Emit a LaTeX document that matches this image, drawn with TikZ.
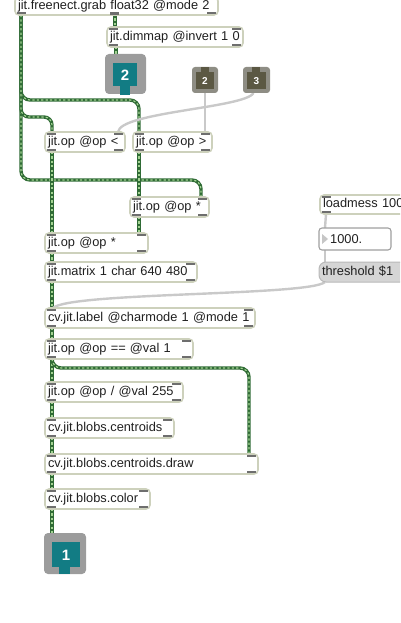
\documentclass[tikz,border=0pt]{standalone}
\usepackage{fontspec}
\setmainfont{Liberation Sans}
\usetikzlibrary{backgrounds}
\definecolor{boxline}{HTML}{CDD1BC}
\definecolor{tabc}{HTML}{6E6E6E}
\definecolor{matg}{HTML}{2F6B35}
\definecolor{matl}{HTML}{A3D392}
\definecolor{cordg}{HTML}{C9C9C9}
\definecolor{tealc}{HTML}{127C84}
\definecolor{outbgc}{HTML}{9C9C9C}
\definecolor{inbgc}{HTML}{8E8D84}
\definecolor{brownc}{HTML}{5B5843}
\definecolor{txt}{HTML}{202020}
\tikzset{
  objbox/.style={draw=boxline, line width=1.6pt, fill=white, rounded corners=4pt,
    anchor=north west, align=left, inner xsep=3pt, inner ysep=0pt, minimum height=20pt, outer sep=0pt,
    font=\fontsize{12.8}{14}\selectfont, text=txt, text height=9.5pt, text depth=3pt},
  tab/.style={fill=tabc},
  mcord/.style={line width=3.4pt, draw=matg, line cap=butt,
    postaction={draw=matl, line width=1.1pt, dash pattern=on 2.2pt off 2.2pt}},
  gcord/.style={line width=2.4pt, draw=cordg},
  outbg/.style={fill=outbgc, rounded corners=4pt, anchor=north west, inner sep=0pt, outer sep=0pt},
  inbg/.style={fill=inbgc, rounded corners=3pt, anchor=north west, inner sep=0pt, outer sep=0pt},
  numtxt/.style={text=white, font=\bfseries\fontsize{15}{16}\selectfont, inner sep=0pt},
  smalltxt/.style={text=white, font=\bfseries\fontsize{10}{11}\selectfont, inner sep=0pt},
}
\newcommand\tabsall[1]{%
  \fill[tab] ([xshift=2pt,yshift=-0.8pt]#1.north west) rectangle +(9,2.6);
  \fill[tab] ([xshift=-11pt,yshift=-0.8pt]#1.north east) rectangle +(9,2.6);
  \fill[tab] ([xshift=2pt,yshift=0.8pt]#1.south west) rectangle +(9,-2.6);
  \fill[tab] ([xshift=-11pt,yshift=0.8pt]#1.south east) rectangle +(9,-2.6);}
\begin{document}
\begin{tikzpicture}[x=1pt,y=-1pt]
\useasboundingbox (0,0) rectangle (400,623);
\clip (0,0) rectangle (400,623);
% objects
\node[objbox, text width=197pt, minimum height=18pt] (grab) at (15,-3) {jit.freenect.grab float32 @mode 2};
\fill[tab] ([xshift=2pt,yshift=0.8pt]grab.south west) rectangle +(9,-2.6);
\fill[tab] (110,12.4) rectangle +(9,2.6);
\fill[tab] ([xshift=-11pt,yshift=0.8pt]grab.south east) rectangle +(9,-2.6);
\node[objbox, text width=130pt] (dimmap) at (107,27) {jit.dimmap @invert 1 0};
\tabsall{dimmap}
\node[objbox, text width=74pt] (oplt) at (45,132) {jit.op @op <};
\tabsall{oplt}
\node[objbox, text width=73pt] (opgt) at (133,132) {jit.op @op >};
\tabsall{opgt}
\node[objbox, text width=73pt] (optwo) at (130,197) {jit.op @op *};
\tabsall{optwo}
\node[objbox, text width=97pt] (opone) at (45,233) {jit.op @op *};
\tabsall{opone}
\node[objbox, text width=146pt] (matrix) at (45,262) {jit.matrix 1 char 640 480};
\tabsall{matrix}
\node[objbox, text width=104pt, minimum height=19pt] (loadmess) at (320,195) {loadmess 1000};
\tabsall{loadmess}
\node[draw=gray!75, line width=1.1pt, fill=white, rounded corners=3pt, anchor=north west,
  minimum width=72pt, minimum height=22pt, inner sep=0pt, outer sep=0pt] (numbox) at (319,228) {};
\fill[gray!45] (322,234) -- (328,239) -- (322,244) -- cycle;
\node[anchor=west, inner sep=0pt, font=\fontsize{12.8}{14}\selectfont, text=txt] (numtext) at (330,239) {1000.};
\node[draw=gray!55, line width=1pt, fill=gray!33, rounded corners=7pt, anchor=north west,
  minimum height=20pt, inner xsep=3pt, inner ysep=0pt, outer sep=0pt, font=\fontsize{12.8}{14}\selectfont, text=txt,
  text height=9.5pt, text depth=3pt, align=left, text width=84pt] (thresh) at (319,262) {threshold \$1};
\node[objbox, text width=204pt] (label) at (45,308) {cv.jit.label @charmode 1 @mode 1};
\tabsall{label}
\node[objbox, text width=142pt] (opeq) at (45,339) {jit.op @op == @val 1};
\tabsall{opeq}
\node[objbox, text width=132pt] (opdiv) at (45,382) {jit.op @op / @val 255};
\tabsall{opdiv}
\node[objbox, text width=123pt] (centr) at (45,418) {cv.jit.blobs.centroids};
\tabsall{centr}
\node[objbox, text width=207pt] (cdraw) at (45,454) {cv.jit.blobs.centroids.draw};
\tabsall{cdraw}
\node[objbox, text width=99pt] (bcolor) at (45,489) {cv.jit.blobs.color};
\tabsall{bcolor}
% outlets
\node[outbg, minimum width=41pt, minimum height=40pt] (outtwo) at (105,54) {};
\fill[tealc] (113,63) rectangle (137,86);
\fill[tealc] (120,85) rectangle (130,95);
\node[numtxt] (outtwon) at (125,75) {2};
\node[outbg, minimum width=42pt, minimum height=41pt] (outone) at (44,533) {};
\fill[tealc] (52,542) rectangle (80,567);
\fill[tealc] (59,566) rectangle (70,574);
\node[numtxt] (outonen) at (66,555) {1};
% inlets
\node[inbg, minimum width=26pt, minimum height=26pt] (intwo) at (192,67) {};
\fill[brownc] (196,72) rectangle (214,89);
\fill[brownc] (201,67) rectangle (209,73);
\node[smalltxt] (intwon) at (205,81) {2};
\node[inbg, minimum width=27pt, minimum height=26pt] (inthree) at (243,67) {};
\fill[brownc] (247,72) rectangle (266,89);
\fill[brownc] (252,67) rectangle (260,73);
\node[smalltxt] (inthreen) at (256.5,81) {3};
% cords
\begin{scope}[on background layer]
\coordinate (gout) at ([xshift=6pt]grab.south west);
\draw[mcord, rounded corners=9pt] (gout) -- ([xshift=6pt]grab.south west |- 0,180) -- ([xshift=-8pt]optwo.north east |- 0,180) -- ([xshift=-8pt]optwo.north east);
\draw[mcord, rounded corners=9pt] (gout) -- ([xshift=6pt]grab.south west |- 0,100) -- ([xshift=6pt]opgt.north west |- 0,100) -- ([xshift=6pt]opgt.north west);
\draw[mcord, rounded corners=8pt] (gout) -- ([xshift=6pt]grab.south west |- 0,117) -- ([xshift=7pt]oplt.north west |- 0,117) -- ([xshift=7pt]oplt.north west);
\draw[mcord] (115,14) -- ([xshift=8pt]dimmap.north west);
\draw[mcord] ([xshift=9pt]dimmap.south west) -- (outtwo.north -| 116,0);
\draw[mcord] ([xshift=7pt]oplt.south west) -- ([xshift=7pt]opone.north west);
\draw[mcord] ([xshift=6pt]opgt.south west) -- ([xshift=9pt]optwo.north west);
\draw[mcord] ([xshift=9pt]optwo.south west) -- ([xshift=-9pt]opone.north east);
\draw[mcord] ([xshift=7pt]opone.south west) -- ([xshift=7pt]matrix.north west);
\draw[mcord] ([xshift=7pt]matrix.south west) -- ([xshift=7pt]label.north west);
\draw[mcord] ([xshift=7pt]label.south west) -- ([xshift=7pt]opeq.north west);
\draw[mcord] ([xshift=7pt]opeq.south west) -- ([xshift=7pt]opdiv.north west);
\draw[mcord, rounded corners=9pt] ([xshift=7pt]opeq.south west) -- ([xshift=7pt]opeq.south west |- 0,368) -- ([xshift=-9pt]cdraw.north east |- 0,368) -- ([xshift=-9pt]cdraw.north east);
\draw[mcord] ([xshift=7pt]opdiv.south west) -- ([xshift=7pt]centr.north west);
\draw[mcord] ([xshift=7pt]centr.south west) -- ([xshift=7pt]cdraw.north west);
\draw[mcord] ([xshift=7pt]cdraw.south west) -- ([xshift=7pt]bcolor.north west);
\draw[mcord] ([xshift=7pt]bcolor.south west) -- (outone.north -| 52,0);
\draw[gcord] (intwo.south) -- ([xshift=-7pt]opgt.north east);
\draw[gcord] ([xshift=-3pt]inthree.south) .. controls (245,108) and (120,112) .. ([xshift=-7pt]oplt.north east);
\draw[gcord] ([xshift=6pt]loadmess.south west) -- ([xshift=6pt]numbox.north west);
\draw[gcord] ([xshift=6pt]numbox.south west) -- ([xshift=6pt]thresh.north west);
\draw[gcord] ([xshift=6pt]thresh.south west) .. controls (310,296) and (70,292) .. ([xshift=8pt]label.north west);
\end{scope}
\end{tikzpicture}
\end{document}
